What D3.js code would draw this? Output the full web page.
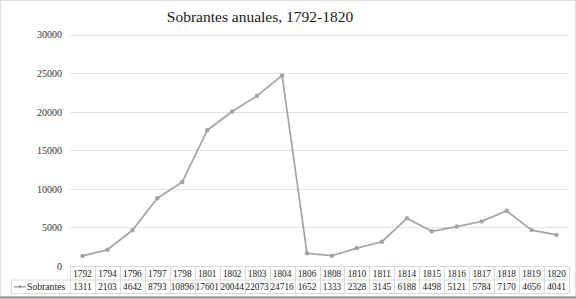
<!DOCTYPE html>
<html>
<head>
<meta charset="utf-8">
<script src="https://cdn.jsdelivr.net/npm/d3@7"></script>
<style>
  body { margin: 0; background: #fff; }
  svg { display: block; }
  svg text { font-family: 'Liberation Serif', 'DejaVu Serif', serif; }
</style>
</head>
<body>
<div id="chart"></div>
<script>
const years = ['1792', '1794', '1796', '1797', '1798', '1801', '1802', '1803', '1804', '1806', '1808',
  '1810', '1811', '1814', '1815', '1816', '1817', '1818', '1819', '1820']
const sobrantes = [1311, 2103, 4642, 8793, 10896, 17601, 20044, 22073, 24716, 1652, 1333,
  2328, 3145, 6188, 4498, 5121, 5784, 7170, 4656, 4041]
const yTicks = [0, 5000, 10000, 15000, 20000, 25000, 30000]
const seriesName = 'Sobrantes'
const title = 'Sobrantes anuales, 1792-1820'

const W = 576, H = 299
const plot = { left: 70, right: 569, top: 34.7, bottom: 266 }
const rowH = 13.5
const lineColour = '#a5a5a5'
const gridColour = '#e4e4e4'
const tableColour = '#d9d9d9'

const svg = d3.select('#chart').append('svg')
  .attr('width', W)
  .attr('height', H)

// Chart border.
svg.append('rect')
  .attr('x', 0.5).attr('y', 0.5)
  .attr('width', W - 1).attr('height', H - 2.5)
  .attr('fill', '#fff')
  .attr('stroke', '#e0e0e0')
svg.append('line')
  .attr('x1', 0).attr('x2', W)
  .attr('y1', H - 1.5).attr('y2', H - 1.5)
  .attr('stroke', '#8c8c8c')
  .attr('stroke-width', 2)

// Title.
svg.append('text')
  .attr('x', 260)
  .attr('y', 22)
  .attr('text-anchor', 'middle')
  .style('font-size', '15.5px')
  .attr('fill', '#1a1a1a')
  .text(title)

const x = d3.scaleBand()
  .domain(years)
  .range([plot.left, plot.right])

const y = d3.scaleLinear()
  .domain([0, 30000])
  .range([plot.bottom, plot.top])

// Gridlines.
svg.append('g')
  .selectAll('line')
  .data(yTicks.filter(d => d > 0))
  .enter()
  .append('line')
    .attr('x1', plot.left)
    .attr('x2', plot.right)
    .attr('y1', d => Math.round(y(d)) + 0.5)
    .attr('y2', d => Math.round(y(d)) + 0.5)
    .attr('stroke', gridColour)

// Y axis labels.
const yAxis = svg.append('g')
  .attr('transform', 'translate(' + plot.left + ',0)')
  .call(d3.axisLeft(y).tickValues(yTicks).tickSize(0).tickPadding(8).tickFormat(d3.format('d')))
yAxis.select('.domain').remove()
yAxis.selectAll('text')
  .style('font-size', '10px')
  .attr('fill', '#333')

// Data table under the plot.
const table = svg.append('g')
const tableTop = Math.round(plot.bottom) + 0.5
const tableMid = tableTop + rowH
const tableBot = tableMid + rowH
const legendLeft = 11.5

table.append('line')
  .attr('x1', plot.left).attr('x2', plot.right)
  .attr('y1', tableTop).attr('y2', tableTop)
  .attr('stroke', tableColour)
for (const yy of [tableMid, tableBot]) {
  table.append('line')
    .attr('x1', legendLeft).attr('x2', plot.right)
    .attr('y1', yy).attr('y2', yy)
    .attr('stroke', tableColour)
}
table.append('line')
  .attr('x1', legendLeft).attr('x2', legendLeft)
  .attr('y1', tableMid).attr('y2', tableBot)
  .attr('stroke', tableColour)

const edges = years.map(d => x(d)).concat([plot.right])
table.selectAll('.vline')
  .data(edges)
  .enter()
  .append('line')
    .attr('class', 'vline')
    .attr('x1', d => Math.round(d) + 0.5)
    .attr('x2', d => Math.round(d) + 0.5)
    .attr('y1', tableTop)
    .attr('y2', tableBot)
    .attr('stroke', tableColour)

table.selectAll('.year')
  .data(years)
  .enter()
  .append('text')
    .attr('class', 'year')
    .attr('x', d => x(d) + x.bandwidth() / 2)
    .attr('y', tableTop + 10)
    .attr('text-anchor', 'middle')
    .style('font-size', '9.3px')
    .attr('fill', '#222')
    .text(d => d)

table.selectAll('.val')
  .data(sobrantes)
  .enter()
  .append('text')
    .attr('class', 'val')
    .attr('x', (d, i) => x(years[i]) + x.bandwidth() / 2)
    .attr('y', tableMid + 10)
    .attr('text-anchor', 'middle')
    .style('font-size', '9.3px')
    .attr('fill', '#222')
    .text(d => d)

// Legend key in the table.
table.append('line')
  .attr('x1', 14).attr('x2', 26)
  .attr('y1', tableMid + rowH / 2).attr('y2', tableMid + rowH / 2)
  .attr('stroke', lineColour)
  .attr('stroke-width', 1.5)
table.append('circle')
  .attr('cx', 20).attr('cy', tableMid + rowH / 2)
  .attr('r', 1.8)
  .attr('fill', lineColour)
table.append('text')
  .attr('x', 27)
  .attr('y', tableMid + 10)
  .style('font-size', '9.7px')
  .attr('fill', '#222')
  .text(seriesName)

// Series line.
const line = d3.line()
  .x((d, i) => x(years[i]) + x.bandwidth() / 2)
  .y(d => y(d))

svg.append('path')
  .datum(sobrantes)
  .attr('d', line)
  .attr('fill', 'none')
  .attr('stroke', lineColour)
  .attr('stroke-width', 1.75)
  .attr('stroke-linejoin', 'round')

svg.append('g')
  .selectAll('circle')
  .data(sobrantes)
  .enter()
  .append('circle')
    .attr('cx', (d, i) => x(years[i]) + x.bandwidth() / 2)
    .attr('cy', d => y(d))
    .attr('r', 2.2)
    .attr('fill', lineColour)
</script>
</body>
</html>
